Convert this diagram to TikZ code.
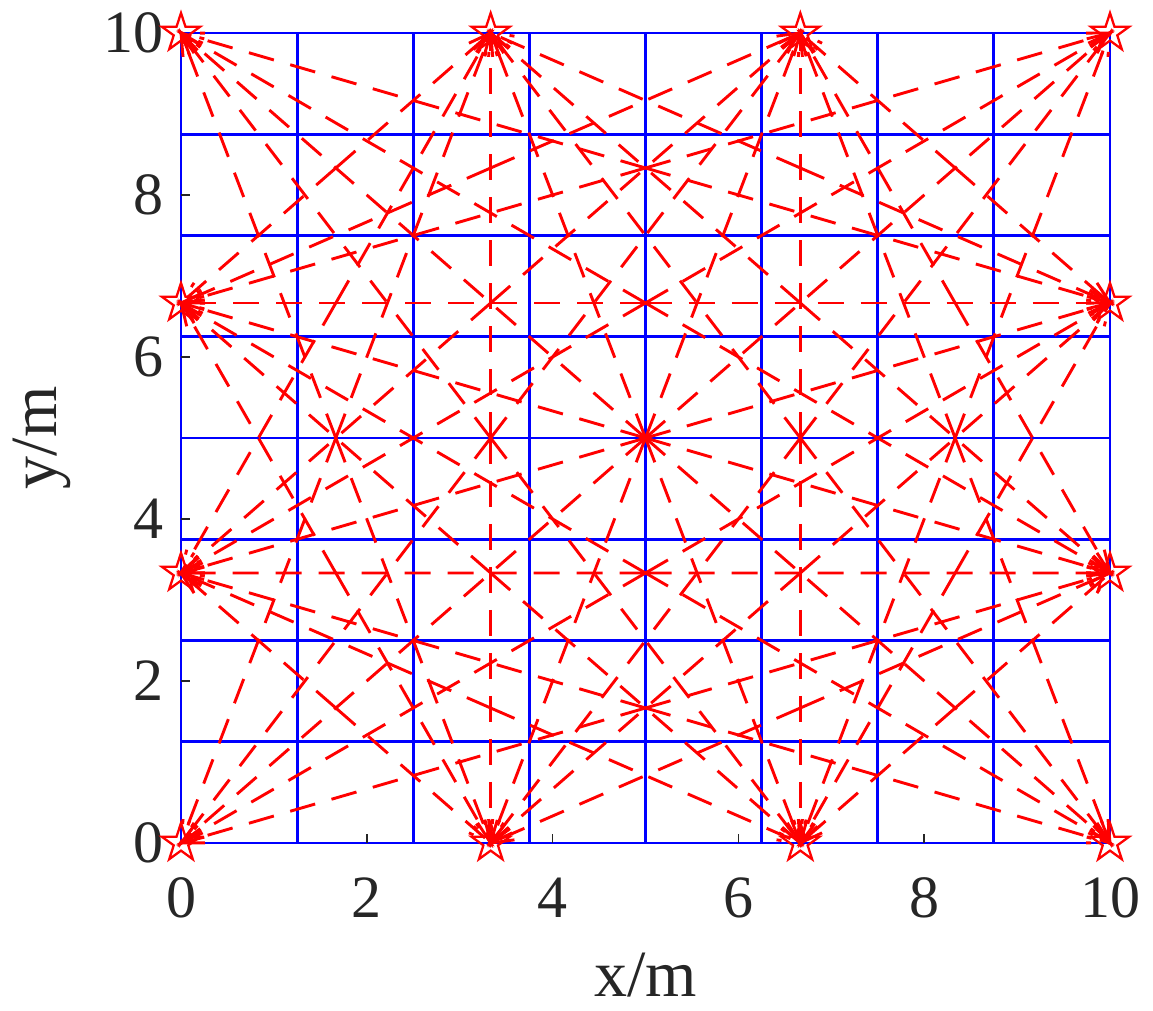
\documentclass[tikz,border=0pt]{standalone}
\usepackage{fontspec}
\setmainfont{Liberation Serif}
\usetikzlibrary{shapes.geometric,calc}
\definecolor{axisgray}{RGB}{38,38,38}
\pgfdeclarelayer{bg}
\pgfdeclarelayer{fg}
\pgfsetlayers{bg,main,fg}
\newcommand\ticksize{\fontsize{60pt}{62pt}\selectfont}
\newcommand\labsize{\fontsize{66pt}{68pt}\selectfont}
\tikzset{
  gridline/.style={draw=blue, line width=2.9pt},
  link/.style={draw=red, line width=2.9pt, dash pattern=on 26pt off 17pt},
  anchorstar/.style={star, star points=5, star point ratio=2.618, minimum size=40pt,
    inner sep=0pt, draw=red, line width=2.3pt},
  tickline/.style={draw=axisgray, line width=1.6pt},
  ticklab/.style={text=axisgray, font=\ticksize, inner sep=0pt},
  axislab/.style={text=axisgray, font=\labsize, inner sep=0pt},
}
\newcommand\pairlink[2]{%
  \coordinate (m#1#2) at ($(#1.center)!0.5!(#2.center)$);
  \draw[link] (m#1#2) -- (#1.center);
  \draw[link] (m#1#2) -- (#2.center);
  \draw[link] ($(#1.center)!24pt!-16:(m#1#2)$) -- (#1.center) -- ($(#1.center)!24pt!16:(m#1#2)$);
  \draw[link] ($(#2.center)!24pt!-16:(m#1#2)$) -- (#2.center) -- ($(#2.center)!24pt!16:(m#1#2)$);
}
\begin{document}
\begin{tikzpicture}[x=92.9pt,y=81pt]
\useasboundingbox (-181pt,-168pt) rectangle (972pt,843pt);
% grid
\begin{pgfonlayer}{bg}
  \foreach \v in {1.25,2.5,3.75,5,6.25,7.5,8.75}{
    \draw[gridline] (\v,0) -- (\v,10);
    \draw[gridline] (0,\v) -- (10,\v);
  }
  \draw[gridline] (0,0) rectangle (10,10);
  \foreach \v in {2,4,6,8}{
    \draw[tickline] (\v,0) -- ++(0,9pt);
    \draw[tickline] (0,\v) -- ++(9pt,0);
  }
\end{pgfonlayer}
% anchors
\begin{pgfonlayer}{fg}
  \node[anchorstar] (b0) at (0,0) {};
  \node[anchorstar] (b1) at (10/3,0) {};
  \node[anchorstar] (b2) at (20/3,0) {};
  \node[anchorstar] (b3) at (10,0) {};
  \node[anchorstar] (t0) at (0,10) {};
  \node[anchorstar] (t1) at (10/3,10) {};
  \node[anchorstar] (t2) at (20/3,10) {};
  \node[anchorstar] (t3) at (10,10) {};
  \node[anchorstar] (l1) at (0,10/3) {};
  \node[anchorstar] (l2) at (0,20/3) {};
  \node[anchorstar] (r1) at (10,10/3) {};
  \node[anchorstar] (r2) at (10,20/3) {};
\end{pgfonlayer}
% links
\foreach \p/\q in {b0/t1,b0/t2,b0/t3,b0/r1,b0/r2,
  b1/l1,b1/l2,b1/t0,b1/t1,b1/t2,b1/t3,b1/r1,b1/r2,
  b2/l1,b2/l2,b2/t0,b2/t1,b2/t2,b2/t3,b2/r1,b2/r2,
  b3/l1,b3/l2,b3/t0,b3/t1,b3/t2,
  l1/t1,l1/t2,l1/t3,l1/r1,l1/r2,
  l2/t1,l2/t2,l2/t3,l2/r1,l2/r2,
  t0/r1,t0/r2,t1/r1,t1/r2,t2/r1,t2/r2}{\pairlink{\p}{\q}}
% tick labels
\foreach \v in {0,2,4,6,8,10}{
  \node[ticklab, anchor=base] (xl\v) at (\v,-0.914) {\v};
  \node[ticklab, anchor=east] (yl\v) at (-0.19,\v) {\v};
}
\node[axislab, anchor=base] (xlab) at (5,-1.90) {x/m};
\node[axislab, anchor=base, rotate=90] (ylab) at (-1.34,5) {y/m};
\end{tikzpicture}
\end{document}
